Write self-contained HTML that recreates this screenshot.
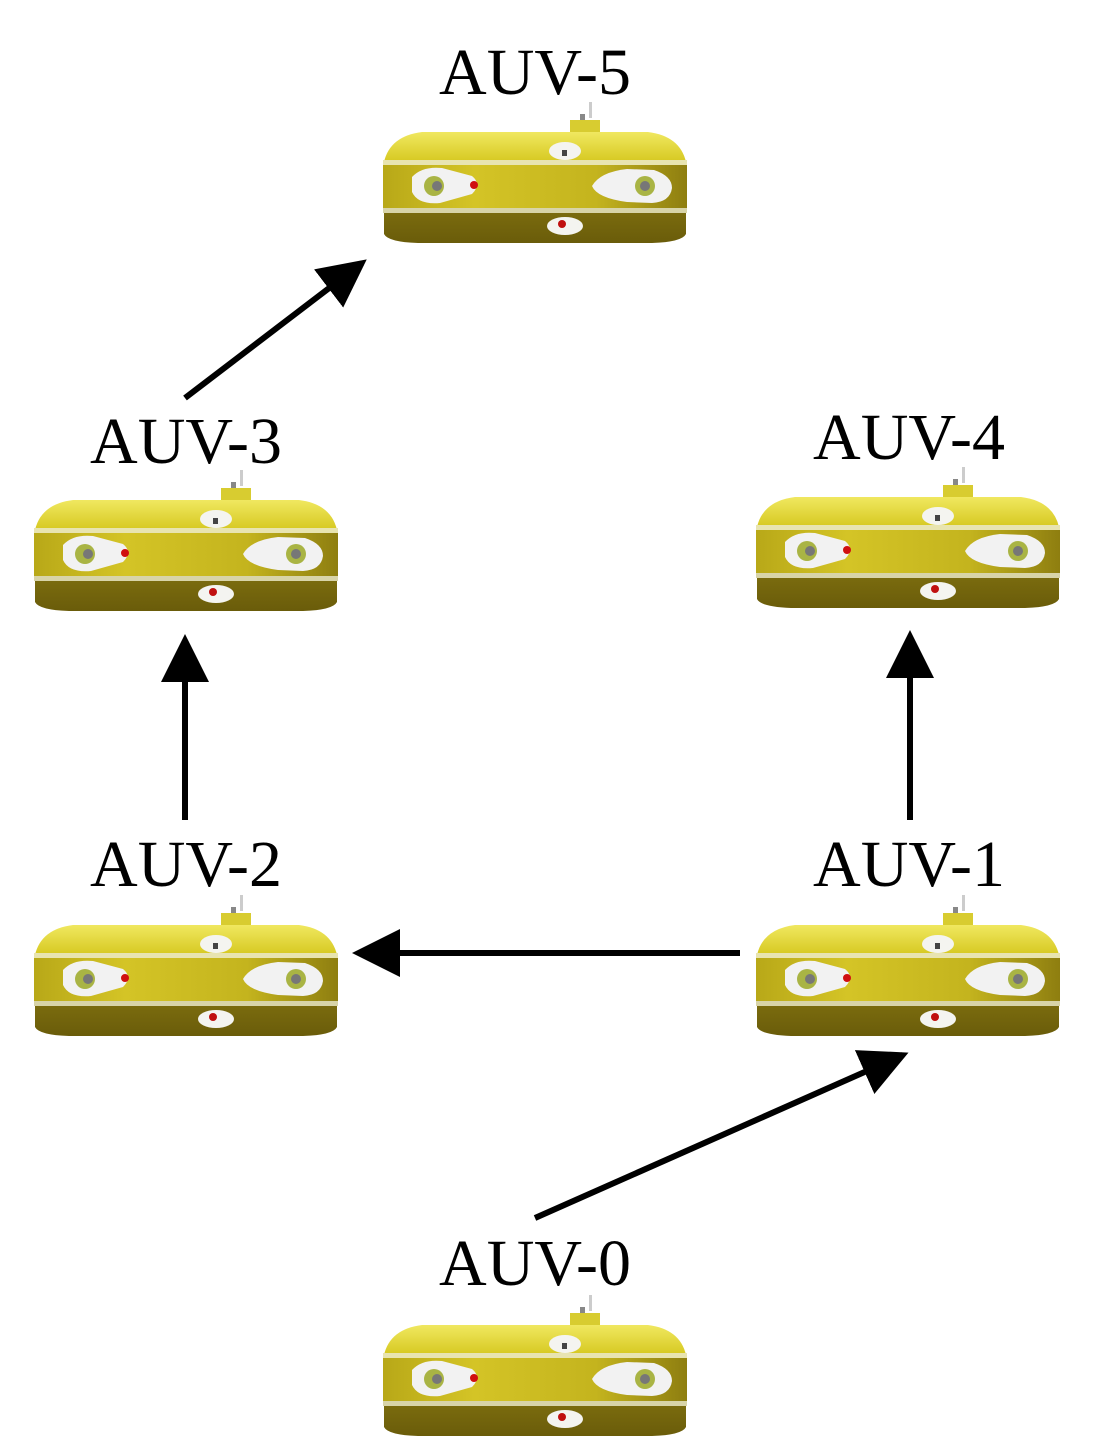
<!DOCTYPE html>
<html><head><meta charset="utf-8"><style>
html,body{margin:0;padding:0;background:#fff}
svg{display:block}
text{font-family:"Liberation Serif",serif;font-size:66px;fill:#000}
</style></head><body>
<svg width="1097" height="1454" viewBox="0 0 1097 1454" xmlns="http://www.w3.org/2000/svg">
<defs>
<linearGradient id="top" x1="0" y1="0" x2="0" y2="1">
<stop offset="0" stop-color="#f0e860"/><stop offset="1" stop-color="#d6c820"/></linearGradient>
<linearGradient id="mid" x1="0" y1="0" x2="1" y2="0">
<stop offset="0" stop-color="#b8a818"/><stop offset="0.3" stop-color="#d4c426"/><stop offset="0.7" stop-color="#c4b41e"/><stop offset="1" stop-color="#8e7e10"/></linearGradient>
<linearGradient id="bot" x1="0" y1="0" x2="0" y2="1">
<stop offset="0" stop-color="#8a7a12"/><stop offset="1" stop-color="#6a5c0a"/></linearGradient>
<g id="auv">
<rect x="207" y="0" width="3" height="16" fill="#ccc"/>
<rect x="198" y="12" width="5" height="8" fill="#888"/>
<rect x="188" y="18" width="30" height="14" fill="#d8cc30"/>
<path d="M2 60 Q8 34 40 30 L266 30 Q298 34 304 60 Z" fill="url(#top)"/>
<path d="M2 80 L304 80 L304 132 Q300 140 270 141 L36 141 Q6 140 2 132 Z" fill="url(#bot)"/>
<rect x="1" y="60" width="304" height="50" fill="url(#mid)"/>
<rect x="1" y="58" width="304" height="5" fill="#e8e4b0"/>
<rect x="1" y="106" width="304" height="5" fill="#d8d4a8"/>
<ellipse cx="183" cy="49" rx="16" ry="9" fill="#f4f4f0"/>
<rect x="180" y="48" width="5" height="6" fill="#444"/>
<path d="M30 75 Q40 64 60 66 L90 74 Q100 82 90 92 L58 101 Q36 103 30 90 Z" fill="#f2f2f2"/>
<circle cx="52" cy="84" r="10" fill="#a9b444"/><circle cx="55" cy="84" r="5" fill="#777"/>
<circle cx="92" cy="83" r="4" fill="#d01010"/>
<path d="M210 84 Q218 70 245 67 L272 68 Q290 74 290 86 Q288 100 270 101 L245 100 Q215 96 210 84 Z" fill="#f2f2f2"/>
<circle cx="263" cy="84" r="10" fill="#a9b444"/><circle cx="263" cy="84" r="5" fill="#777"/>
<ellipse cx="183" cy="124" rx="18" ry="9" fill="#f4f4f0"/>
<circle cx="180" cy="122" r="4" fill="#c01010"/>
</g>
<marker id="ah" markerWidth="8" markerHeight="8" refX="7" refY="4" orient="auto" markerUnits="strokeWidth">
<path d="M0,0 L8,4 L0,8 Z" fill="#000"/></marker>
</defs>
<use href="#auv" x="382" y="102"/>
<use href="#auv" x="33" y="470"/>
<use href="#auv" x="755" y="467"/>
<use href="#auv" x="33" y="895"/>
<use href="#auv" x="755" y="895"/>
<use href="#auv" x="382" y="1295"/>
<text x="535" y="94" text-anchor="middle">AUV-5</text>
<text x="186" y="463" text-anchor="middle">AUV-3</text>
<text x="909" y="459" text-anchor="middle">AUV-4</text>
<text x="186" y="886" text-anchor="middle">AUV-2</text>
<text x="909" y="886" text-anchor="middle">AUV-1</text>
<text x="535" y="1285" text-anchor="middle">AUV-0</text>
<g stroke="#000" stroke-width="6" fill="none" marker-end="url(#ah)">
<line x1="185" y1="398" x2="362" y2="263"/>
<line x1="185" y1="820" x2="185" y2="640"/>
<line x1="910" y1="820" x2="910" y2="636"/>
<line x1="740" y1="953" x2="358" y2="953"/>
<line x1="535" y1="1218" x2="903" y2="1055"/>
</g>
</svg>
</body></html>
